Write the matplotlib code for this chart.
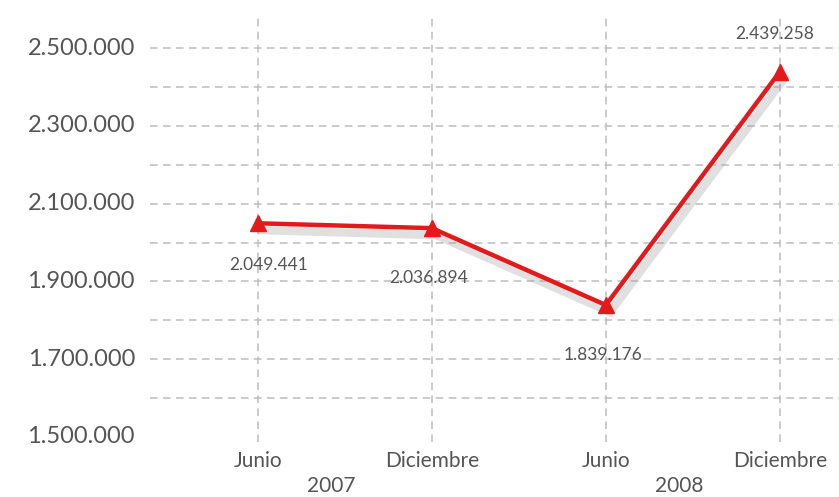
import matplotlib
matplotlib.use("Agg")
import matplotlib.pyplot as plt
import matplotlib.patheffects as pe

months = ["Junio", "Diciembre", "Junio", "Diciembre"]
years = ["2007", "2008"]
values = [2049441, 2036894, 1839176, 2439258]
value_labels = ["2.049.441", "2.036.894", "1.839.176", "2.439.258"]
ytick_vals = [1500000, 1700000, 1900000, 2100000, 2300000, 2500000]
ytick_labels = ["1.500.000", "1.700.000", "1.900.000", "2.100.000", "2.300.000", "2.500.000"]
grid_vals = [1600000, 1700000, 1800000, 1900000, 2000000, 2100000, 2200000, 2300000, 2400000, 2500000]

W, H = 839, 497
fig = plt.figure(figsize=(W / 100, H / 100), dpi=100)
ax = fig.add_axes([150 / W, 1 - 442 / H, (W - 150) / W, (442 - 15) / H])

x = list(range(len(values)))
ax.set_xlim(-0.62, 3.34)
ax.set_ylim(1487000, 2585000)

grid_color = "#bdbdbd"
for g in grid_vals:
    ax.axhline(g, color=grid_color, lw=1.1, ls=(0, (5, 3.5)), zorder=1)
for xi in x:
    ax.axvline(xi, color=grid_color, lw=1.1, ls=(0, (5, 3.5)), zorder=1)

red = "#e3191c"
ax.plot(x, values, color=red, lw=3.2, zorder=3, solid_joinstyle="miter",
        path_effects=[pe.SimpleLineShadow(offset=(3, -5), shadow_color="#9a9a9a", alpha=0.3, rho=0.9, linewidth=6),
                      pe.Normal()])
ax.plot(x, values, ls="none", marker="^", ms=11, color=red, markeredgecolor=red, zorder=4)

txt_color = "#555555"
font = dict(family="Lato")
label_offsets = [(8, -30), (-2, -36), (-2, -36), (-4, 27)]
for xi, v, lab, off in zip(x, values, value_labels, label_offsets):
    ax.annotate(lab, (xi, v), xytext=off, textcoords="offset points",
                ha="center", va="center", fontsize=12.5, color=txt_color, **font)

for s in ax.spines.values():
    s.set_visible(False)
ax.set_xticks([])
ax.set_yticks([])

for yv, yl in zip(ytick_vals, ytick_labels):
    ax.text(-0.62 - 15 / 174, yv, yl, ha="right", va="center", fontsize=17,
            color=txt_color, transform=ax.transData, clip_on=False, **font)

for xi, m in zip(x, months):
    ax.annotate(m, (xi, 0), xycoords=("data", "axes fraction"), xytext=(0, -14),
                textcoords="offset points", ha="center", va="center",
                fontsize=15, color=txt_color, annotation_clip=False, **font)

year_pos = [0.42, 2.42]
for xp, yr in zip(year_pos, years):
    ax.annotate(yr, (xp, 0), xycoords=("data", "axes fraction"), xytext=(0, -32),
                textcoords="offset points", ha="center", va="center",
                fontsize=15, color=txt_color, annotation_clip=False, **font)

fig.savefig("out.png", dpi=100, facecolor="white")
